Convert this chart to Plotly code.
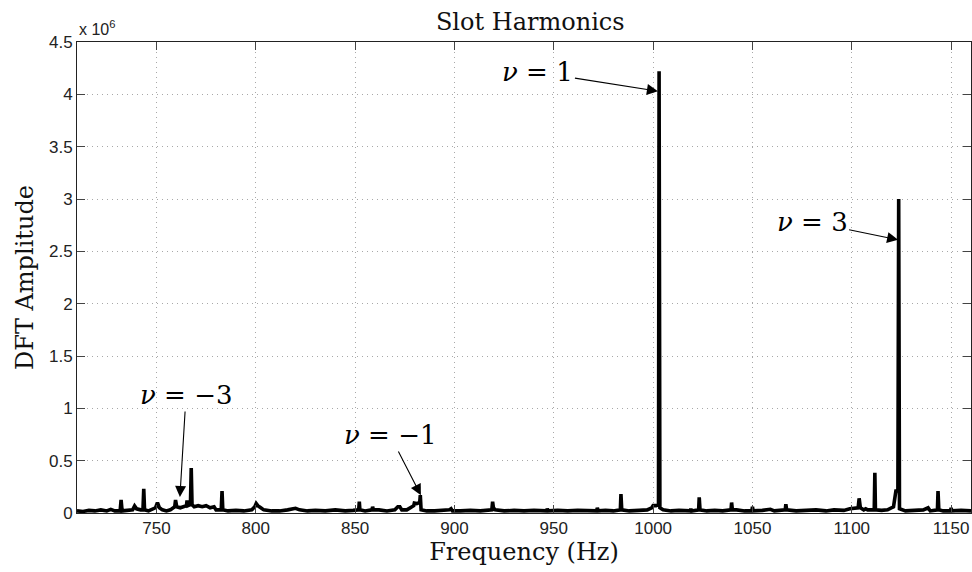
import plotly.graph_objects as go

# Spectrum trace (frequency in Hz, DFT amplitude in units of 1e6)
freq = [710, 713, 716, 719, 722, 725, 727, 729,
        731.7, 732.2, 732.7, 735, 738, 739, 740, 742,
        743.2, 743.6, 744.0, 746, 749.5, 750.5, 751.5, 753, 755, 757,
        759.2, 759.6, 760.2, 762, 764, 765.1, 765.4, 765.8, 767.1, 767.5, 767.9,
        769, 771, 773, 775, 777, 779, 780, 782.6, 783.0, 783.4, 786, 790, 794, 798,
        799.5, 800.2, 801, 802.5, 804, 808, 812, 816, 820, 822, 826, 830, 835, 840,
        845, 849, 851.8, 852.1, 852.4, 855, 858.5, 858.8, 859.2, 862, 866, 870,
        871.5, 872.5, 873.5, 876, 878, 879.5, 879.8, 881, 882.5, 882.8, 883.2, 886,
        890, 894, 897.5, 898.3, 899, 903, 908, 913, 918.8, 919.2, 919.6, 920.5, 925,
        930, 935, 940, 946.3, 946.7, 947.2, 952, 957, 962, 967, 971.6, 971.9, 972.3,
        976, 980, 983.5, 983.8, 984.2, 988, 993, 997, 999.3, 1000, 1001.5, 1002.7,
        1003.0, 1003.4, 1005, 1009, 1013, 1018.7, 1019, 1019.4, 1022.9, 1023.2,
        1023.6, 1027, 1031, 1035, 1039.2, 1039.5, 1039.9, 1042, 1046, 1049.7, 1050,
        1050.3, 1055, 1059, 1061, 1066.5, 1066.8, 1067.2, 1072, 1077, 1082, 1087,
        1091, 1096, 1099, 1103.2, 1103.7, 1104.3, 1106, 1107, 1108, 1111.3, 1111.6,
        1111.9, 1115, 1118, 1121, 1122.2, 1123.2, 1123.6, 1124.0, 1127, 1132, 1136,
        1138.4, 1139.5, 1143.1, 1143.4, 1143.8, 1146, 1149.7, 1150, 1150.3, 1155, 1160]
amp = [0.02, 0.015, 0.025, 0.02, 0.03, 0.02, 0.035, 0.02,
       0.02, 0.124, 0.02, 0.025, 0.03, 0.067, 0.04, 0.03,
       0.03, 0.23, 0.03, 0.02, 0.05, 0.10, 0.05, 0.03, 0.02, 0.03,
       0.06, 0.124, 0.06, 0.05, 0.06, 0.07, 0.12, 0.07, 0.08, 0.43, 0.08,
       0.06, 0.07, 0.06, 0.07, 0.05, 0.06, 0.03, 0.03, 0.21, 0.03, 0.02, 0.025, 0.02, 0.03,
       0.06, 0.09, 0.07, 0.05, 0.03, 0.02, 0.02, 0.03, 0.045, 0.03, 0.02, 0.025, 0.02, 0.03,
       0.02, 0.025, 0.03, 0.108, 0.03, 0.02, 0.03, 0.06, 0.03, 0.03, 0.02, 0.03,
       0.06, 0.06, 0.03, 0.03, 0.05, 0.07, 0.095, 0.09, 0.10, 0.17, 0.03, 0.02,
       0.02, 0.025, 0.03, 0.04, 0.02, 0.02, 0.025, 0.02, 0.03, 0.108, 0.05, 0.03, 0.02,
       0.025, 0.02, 0.025, 0.02, 0.04, 0.02, 0.025, 0.02, 0.025, 0.02, 0.02, 0.05, 0.02,
       0.025, 0.02, 0.03, 0.18, 0.03, 0.02, 0.025, 0.03, 0.05, 0.07, 0.07, 0.08,
       4.22, 0.05, 0.03, 0.02, 0.025, 0.02, 0.04, 0.02, 0.03, 0.15,
       0.03, 0.02, 0.025, 0.02, 0.03, 0.10, 0.03, 0.03, 0.02, 0.02, 0.06,
       0.02, 0.025, 0.035, 0.02, 0.03, 0.083, 0.03, 0.02, 0.025, 0.03, 0.02,
       0.03, 0.025, 0.04, 0.05, 0.14, 0.05, 0.03, 0.04, 0.03, 0.03, 0.385,
       0.03, 0.025, 0.03, 0.06, 0.21, 0.21, 3.0, 0.04, 0.02, 0.03, 0.03,
       0.05, 0.02, 0.03, 0.21, 0.03, 0.02, 0.02, 0.05, 0.02, 0.025, 0.02]

x_ticks = [750, 800, 850, 900, 950, 1000, 1050, 1100, 1150]
y_ticks = [0, 0.5, 1, 1.5, 2, 2.5, 3, 3.5, 4, 4.5]
y_tick_labels = ["0", "0.5", "1", "1.5", "2", "2.5", "3", "3.5", "4", "4.5"]

# Annotations: label, text position (freq, amp), arrow head (freq, amp)
ann_labels = ["<i>ν</i> = 1", "<i>ν</i> = 3", "<i>ν</i> = −3", "<i>ν</i> = −1"]
ann_text_x = [942.0, 1080.0, 764.9, 867.5]
ann_text_y = [4.21, 2.78, 1.127, 0.745]
ann_head_x = [1002.4, 1123.3, 761.8, 883.1]
ann_head_y = [4.03, 2.61, 0.153, 0.17]

SERIF = "DejaVu Serif"
SANS = "Liberation Sans, Arial, sans-serif"

fig = go.Figure()
fig.add_trace(go.Scatter(x=freq, y=amp, mode="lines",
                         line=dict(color="black", width=3.6), showlegend=False,
                         hoverinfo="x+y"))

annotations = []
for lab, tx, ty, hx, hy in zip(ann_labels, ann_text_x, ann_text_y, ann_head_x, ann_head_y):
    annotations.append(dict(x=hx, y=hy, xref="x", yref="y",
                            ax=tx, ay=ty, axref="x", ayref="y",
                            text=lab, showarrow=True, arrowhead=2, arrowsize=2.0,
                            arrowwidth=1.1, arrowcolor="black",
                            font=dict(family=SERIF, size=26, color="black")))
annotations.append(dict(x=0, y=1, xref="paper", yref="paper", xanchor="left",
                        yanchor="bottom", yshift=2, xshift=0,
                        text="x 10<sup>6</sup>", showarrow=False,
                        font=dict(family=SANS, size=16, color="#222")))

fig.update_layout(
    width=972, height=572,
    margin=dict(l=77, r=1, t=42, b=59),
    paper_bgcolor="white", plot_bgcolor="white",
    title=dict(text="Slot Harmonics", x=0.507, xref="paper", xanchor="center",
               y=1 - 22 / 572, yref="container", yanchor="middle",
               font=dict(family=SERIF, size=24, color="#111")),
    annotations=annotations,
    xaxis=dict(range=[710, 1160], tickvals=x_ticks, ticks="inside", ticklen=8,
               tickcolor="#444", showline=True, linecolor="#222", linewidth=1,
               mirror="ticks", showgrid=True, gridcolor="#a8a8a8", griddash="1px,4px",
               gridwidth=1, zeroline=False,
               tickfont=dict(family=SANS, size=17, color="#222"),
               title=dict(text="Frequency (Hz)", standoff=4,
                          font=dict(family=SERIF, size=24, color="#111"))),
    yaxis=dict(range=[0, 4.5], tickvals=y_ticks, ticktext=y_tick_labels,
               ticks="inside", ticklen=8, tickcolor="#444", showline=True,
               linecolor="#222", linewidth=1, mirror="ticks", showgrid=True,
               gridcolor="#a8a8a8", griddash="1px,4px", gridwidth=1, zeroline=False,
               tickfont=dict(family=SANS, size=17, color="#222"),
               title=dict(text="DFT Amplitude", standoff=8,
                          font=dict(family=SERIF, size=24, color="#111"))),
)

fig.write_html("out.html")
